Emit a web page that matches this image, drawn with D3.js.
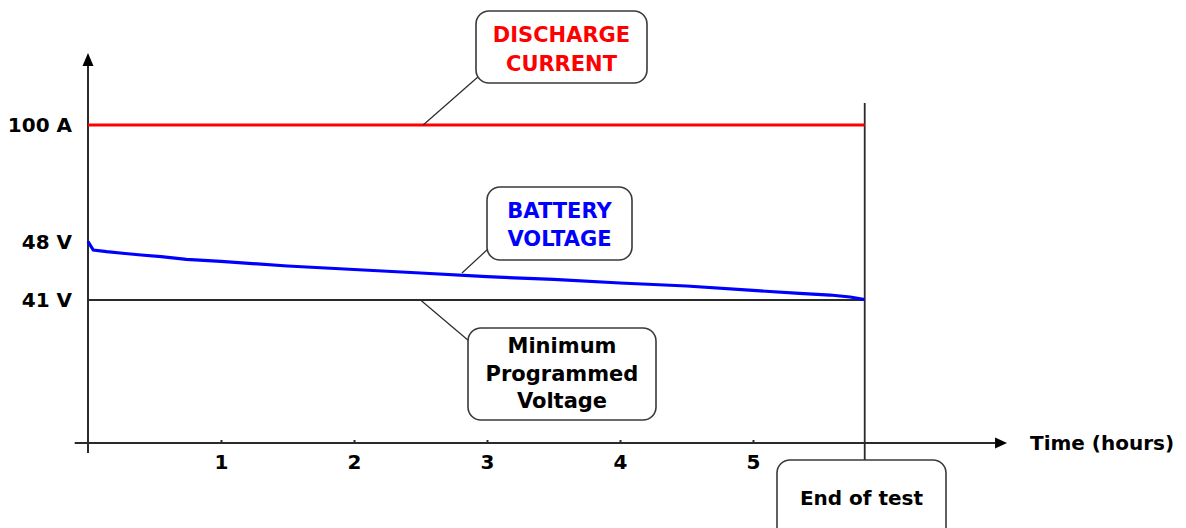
<!DOCTYPE html>
<html>
<head>
<meta charset="utf-8">
<script src="https://cdn.jsdelivr.net/npm/d3@7"></script>
<style>
  html, body { margin: 0; padding: 0; background: #fff; }
  svg { display: block; }
  text { font-family: "DejaVu Sans", Verdana, sans-serif; font-weight: bold; }
</style>
</head>
<body>
<svg id="chart" width="1186" height="528"></svg>
<script>
// ---------- data ----------
const timeTicks = [1, 2, 3, 4, 5];
const levelValues = [100, 48, 41];
const levelLabels = ["100 A", "48 V", "41 V"];
const endTime = 5.84;
const currentTime = [0, 5.84];
const currentValue = [100, 100];
const minVoltage = 41;
const voltageTime = [0, 0.04, 0.14, 0.26, 0.40, 0.55, 0.74, 1.0, 1.5, 2.0, 2.5, 3.0, 3.5, 4.0, 4.5, 5.0, 5.35, 5.58, 5.73, 5.84];
const voltageValue = [48.2, 47.03, 46.83, 46.64, 46.43, 46.23, 45.91, 45.67, 45.10, 44.68, 44.26, 43.81, 43.49, 43.05, 42.69, 42.15, 41.81, 41.60, 41.36, 41.06];
const currentLabel = ["DISCHARGE", "CURRENT"];
const voltageLabel = ["BATTERY", "VOLTAGE"];
const minLabel = ["Minimum", "Programmed", "Voltage"];
const endLabel = ["End of test"];
const xTitle = "Time (hours)";

// ---------- scales ----------
const svg = d3.select("#chart");
const x = d3.scaleLinear().domain([0, 6]).range([88, 886]);
const y = d3.scaleLinear().domain([0, 41, 48, 100]).range([443, 300, 242, 125]);
const ink = "#2a2a2a";

// ---------- axes ----------
const x0 = x(0), y0 = y(0);
svg.append("line").attr("x1", x(-0.1)).attr("x2", x(6.82)).attr("y1", y0).attr("y2", y0)
  .attr("stroke", ink).attr("stroke-width", 2);
svg.append("path")
  .attr("d", `M${x(6.82) + 12},${y0} L${x(6.82)},${y0 - 5.5} L${x(6.82)},${y0 + 5.5} Z`)
  .attr("fill", "#000");
svg.append("line").attr("x1", x0).attr("x2", x0).attr("y1", y0 + 10).attr("y2", 66)
  .attr("stroke", ink).attr("stroke-width", 2);
svg.append("path")
  .attr("d", `M${x0},53 L${x0 - 5.5},66 L${x0 + 5.5},66 Z`)
  .attr("fill", "#000");

const xAxis = svg.append("g").attr("transform", `translate(0,${y0})`)
  .call(d3.axisBottom(x).tickValues(timeTicks).tickSize(-3).tickPadding(12).tickFormat(d3.format("d")));
xAxis.select(".domain").remove();
xAxis.selectAll(".tick line").attr("stroke", ink).attr("stroke-width", 2);
xAxis.selectAll(".tick text").attr("fill", "#000").style("font-size", "20px")
  .style("font-family", "'DejaVu Sans', sans-serif").style("font-weight", "bold");

const yAxis = svg.append("g").attr("transform", `translate(${x0},0)`)
  .call(d3.axisLeft(y).tickValues(levelValues).tickSize(0).tickPadding(16)
    .tickFormat(d => levelLabels[levelValues.indexOf(d)]));
yAxis.select(".domain").remove();
yAxis.selectAll(".tick text").attr("fill", "#000").style("font-size", "20px")
  .style("font-family", "'DejaVu Sans', sans-serif").style("font-weight", "bold");

svg.append("text").attr("x", 1030).attr("y", y0 + 7).attr("fill", "#000")
  .style("font-size", "20px").text(xTitle);

// ---------- reference lines ----------
svg.append("line").attr("x1", x(0)).attr("x2", x(endTime)).attr("y1", y(minVoltage)).attr("y2", y(minVoltage))
  .attr("stroke", ink).attr("stroke-width", 1.8);
svg.append("line").attr("x1", x(endTime)).attr("x2", x(endTime)).attr("y1", 103).attr("y2", 461)
  .attr("stroke", ink).attr("stroke-width", 1.8);

// ---------- series ----------
const line = d3.line().x(d => x(d[0])).y(d => y(d[1]));
svg.append("path").datum(d3.zip(currentTime, currentValue)).attr("d", line)
  .attr("fill", "none").attr("stroke", "#ff0000").attr("stroke-width", 3);
svg.append("path").datum(d3.zip(voltageTime, voltageValue)).attr("d", line)
  .attr("fill", "none").attr("stroke", "#0000ff").attr("stroke-width", 3.2);

// ---------- callouts ----------
function callout(bx, by, bw, bh, lines, color, size, firstBase, step, leader) {
  if (leader) {
    svg.append("line").attr("x1", leader[0]).attr("y1", leader[1]).attr("x2", leader[2]).attr("y2", leader[3])
      .attr("stroke", ink).attr("stroke-width", 1.2);
  }
  svg.append("rect").attr("x", bx).attr("y", by).attr("width", bw).attr("height", bh)
    .attr("rx", 13).attr("ry", 13).attr("fill", "#fff").attr("stroke", "#3a3a3a").attr("stroke-width", 1.6);
  const t = svg.append("text").attr("text-anchor", "middle").attr("fill", color).style("font-size", size + "px");
  lines.forEach((s, i) => {
    t.append("tspan").attr("x", bx + bw / 2).attr("y", by + firstBase + i * step).text(s);
  });
}

callout(476, 11, 171, 72, currentLabel, "#ff0000", 21, 31, 29, [479, 76, x(2.52), y(100)]);
callout(487, 187, 145, 73, voltageLabel, "#0000ff", 21, 31, 28, [488, 249, 462, 273]);
callout(468, 328, 188, 92, minLabel, "#000", 21, 25, 27.5, [469, 341, x(2.5), y(minVoltage)]);
callout(777, 460, 169, 85, endLabel, "#000", 20, 45, 0, null);
</script>
</body>
</html>
